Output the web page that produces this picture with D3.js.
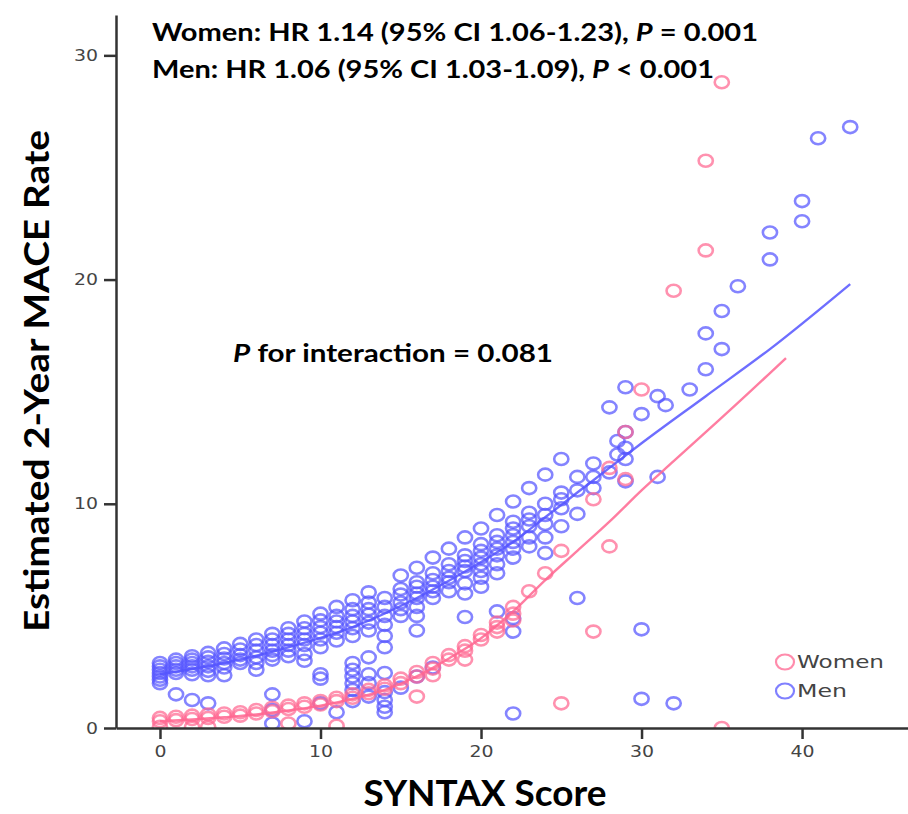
<!DOCTYPE html>
<html><head><meta charset="utf-8">
<script src="https://cdn.jsdelivr.net/npm/d3@7"></script>
<style>body{margin:0;background:#fff} svg{display:block}</style>
</head><body><svg id="chart" width="908" height="814"></svg>
<script>
// ---------- data ----------
const xTicks = [0, 10, 20, 30, 40];
const yTicks = [0, 10, 20, 30];
const seriesNames = ["Women", "Men"];

const menScore = [
 0,0,0,0,0,0,0, 1,1,1,1,1,1, 2,2,2,2,2,2,2, 3,3,3,3,3,3,3, 4,4,4,4,4,4, 5,5,5,5,5,
 6,6,6,6,6,6, 7,7,7,7,7,7,7,7,7, 8,8,8,8,8,8, 9,9,9,9,9,9,9,9, 10,10,10,10,10,10,10,10,10,
 11,11,11,11,11,11,11, 12,12,12,12,12,12,12,12,12,12,12,12, 13,13,13,13,13,13,13,13,13,13,
 14,14,14,14,14,14,14,14,14,14,14, 15,15,15,15,15,15,15, 16,16,16,16,16,16,16,16,16,
 17,17,17,17,17,17,17, 18,18,18,18,18,18, 19,19,19,19,19,19,19,19, 20,20,20,20,20,20,20,20,
 21,21,21,21,21,21,21,21, 22,22,22,22,22,22,22,22,22,22, 23,23,23,23,23,23, 24,24,24,24,24,24,
 25,25,25,25,25, 26,26,26,26, 27,27,27, 28,28, 28.5,28.5, 29,29,29,29,29, 30,30,30,
 31,31, 31.5, 32, 33, 34,34, 35,35, 36, 38,38, 40,40, 41, 43
];
const menRate = [
 2.9,2.75,2.6,2.45,2.3,2.15,2.0, 3.05,2.9,2.75,2.6,2.45,1.5, 3.2,3.05,2.9,2.75,2.6,2.4,1.25, 3.35,3.15,2.95,2.75,2.55,2.35,1.1,
 3.55,3.3,3.1,2.9,2.7,2.35, 3.75,3.5,3.25,3.05,2.9,
 3.95,3.7,3.45,3.15,2.9,2.6, 4.2,3.95,3.7,3.45,3.25,3.05,1.5,0.8,0.2, 4.45,4.2,3.95,3.7,3.45,3.2,
 4.75,4.45,4.2,3.95,3.7,3.3,3.0,0.3, 5.1,4.8,4.5,4.25,3.95,3.6,2.4,2.2,1.1,
 5.4,5.0,4.75,4.5,4.25,3.9,0.7, 5.7,5.3,5.0,4.75,4.45,4.1,2.9,2.6,2.3,2.0,1.7,1.2,
 6.05,5.6,5.3,5.05,4.7,4.35,3.15,2.4,2.0,1.4,
 5.8,5.4,5.0,4.6,4.1,3.6,2.45,1.6,1.25,0.95,0.7, 6.8,6.2,5.95,5.6,5.3,5.0,1.8,
 7.15,6.5,6.3,6.0,5.8,5.4,5.0,4.35,2.3,
 7.6,6.9,6.6,6.3,6.1,5.8,2.7, 8.0,7.3,7.0,6.7,6.5,6.1, 8.5,7.7,7.45,7.2,7.0,6.45,6.0,4.95,
 8.9,8.2,7.9,7.6,7.3,7.0,6.7,6.3,
 9.5,8.6,8.3,8.0,7.7,7.3,6.9,5.2, 10.1,9.2,8.9,8.6,8.3,8.0,7.6,4.9,4.3,0.65, 10.7,9.6,9.3,9.0,8.5,8.1,
 11.3,10.0,9.5,9.1,8.5,7.8,
 12.0,10.5,10.2,9.8,9.0, 11.2,10.6,9.55,5.8, 11.8,11.2,10.7, 14.3,11.4, 12.8,12.2, 15.2,13.2,12.5,12.0,11.0,
 14.0,4.4,1.3,
 14.8,11.2, 14.4, 1.1, 15.1, 17.6,16.0, 18.6,16.9, 19.7, 22.1,20.9, 23.5,22.6, 26.3, 26.8
];

const womenScore = [
 0,0,0, 1,1, 2,2,2, 3,3,3, 4,4, 5,5, 6,6, 7,7, 8,8,8, 9,9, 10,10, 11,11,11, 12,12,
 13,13, 14,14, 15,15, 16,16,16, 17,17,17, 18,18, 19,19,19, 20,20, 21,21,21, 22,22,22,
 23, 24, 25,25, 27,27, 28,28, 29,29, 30, 32, 34,34, 35,35
];
const womenRate = [
 0.3,0.45,0.05, 0.35,0.5, 0.4,0.55,0.05, 0.45,0.6,0.05, 0.5,0.65, 0.55,0.7, 0.65,0.8, 0.75,0.9,
 0.85,1.0,0.2, 0.95,1.1, 1.05,1.2, 1.2,1.35,0.1, 1.35,1.5,
 1.55,1.7, 1.75,1.9, 2.0,2.2, 2.3,2.5,1.4, 2.65,2.9,2.35, 3.05,3.25, 3.45,3.65,3.05, 3.95,4.15,
 4.5,4.7,4.3, 5.1,5.4,4.8,
 6.1, 6.9, 7.9,1.1, 10.2,4.3, 11.6,8.1, 13.2,11.1, 15.1, 19.5, 21.3,25.3, 28.8,0.0
];

const womenFitScore = [0,2,4,6,8,10,12,14,16,18,20,22,24,26,28,30,32,34,36,39];
const womenFitRate  = [0.3,0.38,0.48,0.6,0.78,1.0,1.3,1.7,2.3,3.1,4.0,5.2,6.6,7.9,9.2,10.6,11.9,13.2,14.5,16.5];
const menFitScore = [0,4,8,12,16,20,22,24,26,28,30,34,38,43];
const menFitRate  = [2.4,2.9,3.6,4.5,5.8,7.4,8.3,9.4,10.5,11.6,12.7,14.8,16.9,19.8];

// ---------- drawing ----------
const colWomen = "#ff6690", colMen = "#5555ff";
const svg = d3.select("#chart");
const pL = 116, pR = 908, pT = 15, pB = 728;

const x = d3.scaleLinear().domain([-2.74, 46.6]).range([pL, pR]);
const y = d3.scaleLinear().domain([0, 31.8]).range([pB, pT]);

svg.append("defs").append("clipPath").attr("id","plot")
  .append("rect").attr("x",pL).attr("y",pT).attr("width",pR-pL).attr("height",pB-pT);

const g = svg.append("g").attr("clip-path","url(#plot)");

function drawPts(sx, sy, col) {
  g.append("g").selectAll("ellipse").data(sx.map((d,i)=>[d,sy[i]])).join("ellipse")
    .attr("cx", d=>x(d[0])).attr("cy", d=>y(d[1]))
    .attr("rx", 7.1).attr("ry", 6.0)
    .attr("fill","none").attr("stroke",col).attr("stroke-width",2.6).attr("stroke-opacity",0.72);
}
drawPts(menScore, menRate, colMen);
drawPts(womenScore, womenRate, colWomen);

const line = d3.line().x(d=>x(d[0])).y(d=>y(d[1])).curve(d3.curveMonotoneX);
g.append("path").datum(menFitScore.map((d,i)=>[d,menFitRate[i]]))
  .attr("d",line).attr("fill","none").attr("stroke",colMen).attr("stroke-width",2.4).attr("stroke-opacity",0.85);
g.append("path").datum(womenFitScore.map((d,i)=>[d,womenFitRate[i]]))
  .attr("d",line).attr("fill","none").attr("stroke",colWomen).attr("stroke-width",2.4).attr("stroke-opacity",0.85);

// axes
const xAxis = svg.append("g").attr("transform",`translate(0,${pB})`)
  .call(d3.axisBottom(x).tickValues(xTicks).tickSize(11).tickSizeOuter(0).tickFormat(d3.format("d")));
const yAxis = svg.append("g").attr("transform",`translate(${pL},0)`)
  .call(d3.axisLeft(y).tickValues(yTicks).tickSize(12).tickSizeOuter(0).tickFormat(d3.format("d")));
[xAxis,yAxis].forEach(a=>{
  a.select(".domain").attr("stroke","#333").attr("stroke-width",2.5);
  a.selectAll(".tick line").attr("stroke","#333").attr("stroke-width",2.5);
  a.selectAll(".tick text").attr("font-family","DejaVu Sans").attr("font-size",16).attr("fill","#444")
    .attr("textLength", d=>String(d).length*12).attr("lengthAdjust","spacingAndGlyphs");
});
xAxis.selectAll(".tick text").attr("y",29).attr("dy",0);
yAxis.selectAll(".tick text").attr("x",-18);

// labels
const font = "Lato, 'Open Sans', sans-serif";
svg.append("text").attr("x",485).attr("y",806).attr("text-anchor","middle")
  .attr("font-family",font).attr("font-weight","bold").attr("font-size",36)
  .attr("textLength",243).attr("lengthAdjust","spacingAndGlyphs").text("SYNTAX Score");
svg.append("text").attr("transform","translate(49,381) rotate(-90)").attr("text-anchor","middle")
  .attr("font-family",font).attr("font-weight","bold").attr("font-size",34)
  .attr("textLength",502).attr("lengthAdjust","spacingAndGlyphs").text("Estimated 2-Year MACE Rate");

function stat(xp, yp, len, pre, post) {
  const t = svg.append("text").attr("x",xp).attr("y",yp)
    .attr("font-family",font).attr("font-weight","bold").attr("font-size",24)
    .attr("textLength",len).attr("lengthAdjust","spacingAndGlyphs");
  t.append("tspan").text(pre);
  t.append("tspan").attr("font-style","italic").text("P");
  t.append("tspan").text(post);
}
stat(152, 41, 606, "Women: HR 1.14 (95% CI 1.06-1.23), ", " = 0.001");
stat(152, 78, 562, "Men: HR 1.06 (95% CI 1.03-1.09), ", " < 0.001");
const pi = svg.append("text").attr("x",233).attr("y",362)
  .attr("font-family",font).attr("font-weight","bold").attr("font-size",24)
  .attr("textLength",320).attr("lengthAdjust","spacingAndGlyphs");
pi.append("tspan").attr("font-style","italic").text("P");
pi.append("tspan").text(" for interaction = 0.081");

// legend
const leg = svg.append("g");
[["Women",colWomen,662],["Men",colMen,691]].forEach(([name,col,yy],i)=>{
  leg.append("ellipse").attr("cx",785).attr("cy",yy).attr("rx",9).attr("ry",7.5)
    .attr("fill","none").attr("stroke",col).attr("stroke-width",2.2).attr("stroke-opacity",0.75);
  leg.append("text").attr("x",797).attr("y",yy+6).attr("font-family","DejaVu Sans").attr("font-size",17)
    .attr("fill","#444").attr("textLength", name==="Women"?87:50).attr("lengthAdjust","spacingAndGlyphs")
    .text(seriesNames[i]);
});
</script></body></html>
